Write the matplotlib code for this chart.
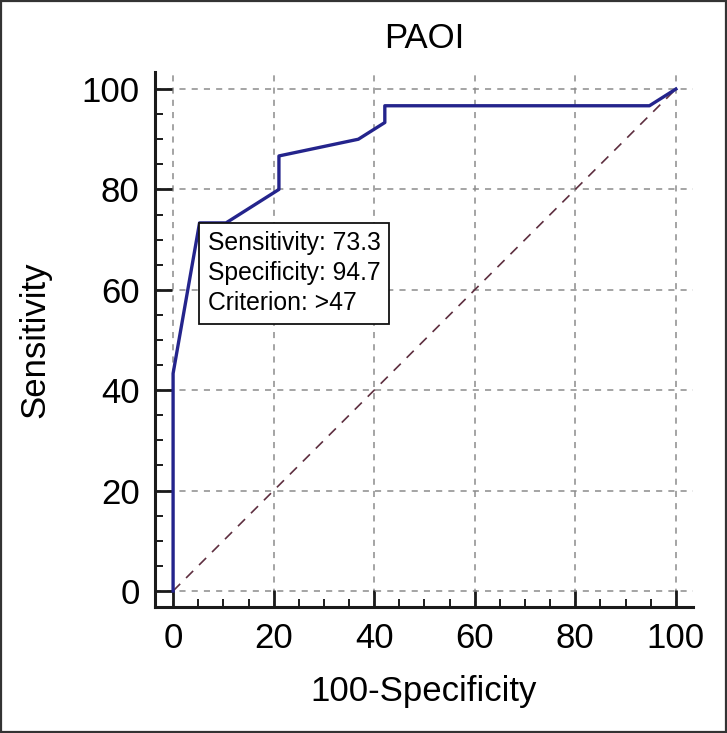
import matplotlib.pyplot as plt
from matplotlib.patches import Rectangle
from matplotlib.ticker import MultipleLocator

plt.rcParams['font.family'] = ['Liberation Sans', 'DejaVu Sans']

# ROC curve points (100-Specificity, Sensitivity)
fpr = [0, 0, 5.26, 10.53, 21.05, 21.05, 36.84, 42.11, 42.11, 94.74, 100]
tpr = [0, 43.33, 73.33, 73.33, 80.0, 86.67, 90.0, 93.33, 96.67, 96.67, 100]

ticks = [0, 20, 40, 60, 80, 100]
best_x = 5.26
best_y = 73.33
box_lines = ["Sensitivity: 73.3", "Specificity: 94.7", "Criterion: >47"]

fig = plt.figure(figsize=(7.27, 7.33), dpi=100)
ax = fig.add_axes([0.2132, 0.1719, 0.740, 0.7299])

ax.plot([0, 100], [0, 100], color='#5e2f40', lw=1.2, dashes=(6, 5), zorder=2)
ax.plot(fpr, tpr, color='#24248c', lw=2.4, zorder=3)

ax.set_xlim(-3.6, 103.4)
ax.set_ylim(-3.2, 103.4)
ax.set_xticks(ticks)
ax.set_yticks(ticks)
ax.xaxis.set_minor_locator(MultipleLocator(5))
ax.yaxis.set_minor_locator(MultipleLocator(5))
ax.grid(True, which='major', color='#8c8c8c', lw=1.1, dashes=(4, 4))

for s in ['top', 'right']:
    ax.spines[s].set_visible(False)
for s in ['left', 'bottom']:
    ax.spines[s].set_linewidth(2.2)
    ax.spines[s].set_color('#1a1a1a')

ax.tick_params(which='major', direction='in', length=12, width=2.0,
               labelsize=25, pad=11, color='#1a1a1a')
ax.tick_params(which='minor', direction='in', length=6, width=1.4, color='#1a1a1a')

ax.set_title('PAOI', fontsize=25, pad=17)
ax.set_xlabel('100-Specificity', fontsize=25, labelpad=14)
ax.set_ylabel('Sensitivity', fontsize=25, labelpad=22)

ax.annotate('\n'.join(box_lines), xy=(best_x, best_y), xytext=(5.8, -5.8),
            textcoords='offset points', ha='left', va='top', fontsize=17.8,
            linespacing=1.33, zorder=5,
            bbox=dict(boxstyle='square,pad=0.33', fc='white', ec='#111111', lw=1.3))

fig.patches.append(Rectangle((0.002, 0.002), 0.996, 0.996, transform=fig.transFigure,
                             fill=False, ec='#333333', lw=1.6))

fig.savefig('out.png', dpi=100)
